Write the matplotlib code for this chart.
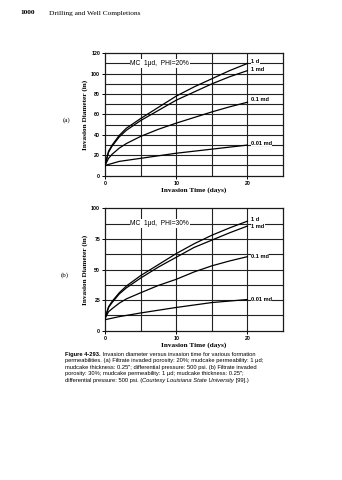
import matplotlib.pyplot as plt
from matplotlib.text import Annotation

# invasion time (days)
t_main = [0, 0.5, 1, 2, 3, 5, 7.5, 10, 12.5, 15, 17.5, 20]
t_low = [0, 2, 5, 10, 15, 20]

# (a) PHI = 20 %
a_1d = [10, 24, 30, 39.5, 46.5, 56, 67, 78, 87, 95, 103, 110]
a_1md = [10, 23, 29, 38, 44.5, 54, 64, 74, 82, 90, 97, 103]
a_01md = [10, 17, 21, 27, 31.5, 38.5, 45.5, 51.5, 57, 62.5, 67.5, 72]
a_001md = [10, 14, 17, 22, 26, 30]

# (b) PHI = 30 %
b_1d = [10, 19.5, 24, 31, 36.5, 45, 54, 63, 71, 78, 84, 89.5]
b_1md = [10, 19, 23, 30, 35, 43, 52, 60, 68, 74, 80, 85.5]
b_01md = [10, 15.5, 18, 22.5, 26, 31, 37, 42, 48, 53, 57, 60.5]
b_001md = [9, 11.5, 14.5, 19, 23, 25.5]

curve_names = ["1 d", "1 md", "0.1 md", "0.01 md"]
a_label_y = [112, 104, 74.5, 31.5]
b_label_y = [90.7, 85.3, 60.8, 25.3]

SERIF = "Liberation Serif"
SANS = "Liberation Sans"
GRID = "#222222"


def panel(ax, curves, ymax, ystep, ytick_step, label_y, note, note_y):
    ax.set_xlim(0, 25)
    ax.set_ylim(0, ymax)
    # grid
    y = ystep
    while y < ymax - 1e-6:
        ax.axhline(y, color=GRID, lw=0.8, zorder=1)
        y += ystep
    for x in [5, 10, 15, 20]:
        ax.axvline(x, color=GRID, lw=0.8, zorder=1)
    for s in ax.spines.values():
        s.set_linewidth(0.9)
        s.set_color("#1a1a1a")

    for tt, dd in curves:
        ax.plot(tt, dd, color="black", lw=0.9, zorder=3)

    for name, yy in zip(curve_names, label_y):
        ax.text(20.5, yy, name, fontsize=4.1, fontweight="bold", family=SANS,
                ha="left", va="center", zorder=4,
                bbox=dict(fc="white", ec="none", pad=0.3))
    ax.text(7.7, note_y, note, fontsize=4.8, family=SANS, ha="center",
            va="center", zorder=4, bbox=dict(fc="white", ec="none", pad=0.6))

    ax.set_xticks([0, 10, 20])
    ax.set_yticks(list(range(0, ymax + 1, ytick_step)))
    ax.tick_params(labelsize=3.8, length=2, width=0.7, pad=1.5)
    for lab in ax.get_xticklabels() + ax.get_yticklabels():
        lab.set_fontweight("bold")
        lab.set_family(SANS)
    ax.set_xlabel("Invasion Time (days)", fontsize=5.2, fontweight="bold",
                  family=SERIF, labelpad=1)
    ax.set_ylabel("Invasion Diameter (in)", fontsize=5.2, fontweight="bold",
                  family=SERIF, labelpad=2)


fig = plt.figure(figsize=(3.42, 4.8), dpi=100)
fig.patch.set_facecolor("white")

ax1 = fig.add_axes([0.307, 0.634, 0.5205, 0.255])
panel(ax1,
      [(t_main, a_1d), (t_main, a_1md), (t_main, a_01md), (t_low, a_001md)],
      120, 10, 20, a_label_y, "MC  1\u03bcd,  PHI=20%", 110)

ax2 = fig.add_axes([0.307, 0.311, 0.5205, 0.255])
panel(ax2,
      [(t_main, b_1d), (t_main, b_1md), (t_main, b_01md), (t_low, b_001md)],
      100, 12.5, 25, b_label_y, "MC  1\u03bcd,  PHI=30%", 87.5)

fig.text(67 / 342, 1 - 120 / 480, "(a)", fontsize=5, family=SERIF,
         ha="center", va="center")
fig.text(65 / 342, 1 - 275 / 480, "(b)", fontsize=5, family=SERIF,
         ha="center", va="center")

# page header
fig.text(20 / 342, 1 - 13 / 480, "1000", fontsize=5.3, fontweight="bold",
         family=SERIF, ha="left", va="center")
fig.text(49 / 342, 1 - 13 / 480, "Drilling and Well Completions",
         fontsize=5.3, family=SERIF, ha="left", va="center")

# caption
cap_x = 65 / 342
cap_fs = 4.15
lines_y = [355.7, 362.2, 368.7, 375.2, 381.7]

first = fig.text(cap_x, 1 - lines_y[0] / 480, "Figure 4-293.", fontsize=cap_fs,
                 fontweight="bold", family=SANS, ha="left", va="baseline")
fig.add_artist(Annotation(
    " Invasion diameter versus invasion time for various formation",
    xy=(1, 0), xycoords=first, va="bottom", ha="left",
    fontsize=cap_fs, family=SANS))

body = [
    "permeabilities. (a) Filtrate invaded porosity: 20%; mudcake permeability: 1 \u03bcd;",
    "mudcake thickness: 0.25\"; differential pressure: 500 psi. (b) Filtrate invaded",
    "porosity: 30%; mudcake permeability: 1 \u03bcd; mudcake thickness: 0.25\";",
]
for line, yy in zip(body, lines_y[1:4]):
    fig.text(cap_x, 1 - yy / 480, line, fontsize=cap_fs, family=SANS,
             ha="left", va="baseline")

last = fig.text(cap_x, 1 - lines_y[4] / 480, "differential pressure: 500 psi. (",
                fontsize=cap_fs, family=SANS, ha="left", va="baseline")
ital = Annotation("Courtesy Louisiana State University", xy=(1, 0),
                  xycoords=last, va="bottom", ha="left", fontsize=cap_fs,
                  family=SANS, style="italic")
fig.add_artist(ital)
fig.add_artist(Annotation(" [99].)", xy=(1, 0), xycoords=ital, va="bottom",
                          ha="left", fontsize=cap_fs, family=SANS))

fig.savefig("out.png", dpi=100)
